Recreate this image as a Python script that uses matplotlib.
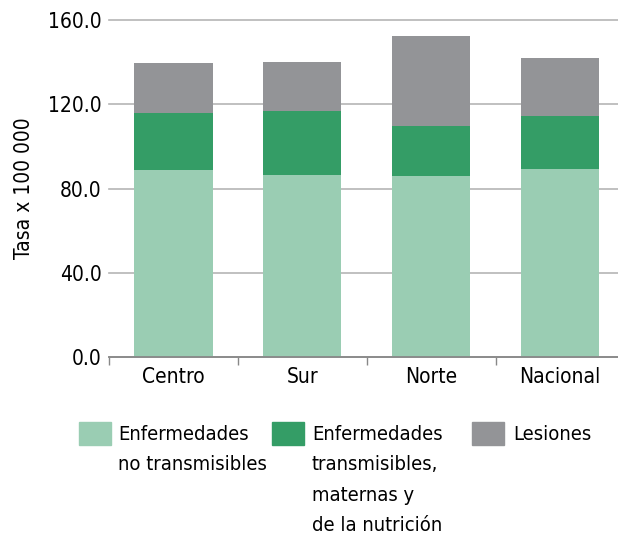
import numpy as np
import matplotlib
matplotlib.use("Agg")
import matplotlib.pyplot as plt
from matplotlib.patches import Rectangle

plt.rcParams['font.family'] = ['DejaVu Sans']
plt.rcParams['font.stretch'] = 'condensed'

# data (Tasa x 100 000)
regiones = ['Centro', 'Sur', 'Norte', 'Nacional']
no_transmisibles = [88.9, 86.5, 86.0, 89.3]
transmisibles = [26.8, 30.3, 23.7, 25.2]
lesiones = [23.9, 23.3, 42.7, 27.5]

etiquetas = ['Enfermedades\nno transmisibles',
             'Enfermedades\ntransmisibles,\nmaternas y\nde la nutrición',
             'Lesiones']
colores = ['#9acdb3', '#349d66', '#939497']
yticks = [0, 40, 80, 120, 160]

fig = plt.figure(figsize=(6.18, 5.39), dpi=100)
ax = fig.add_axes([0.176, 0.337, 0.824, 0.626])

x = np.arange(len(regiones))
w = 0.61
base = np.zeros(len(regiones))
for serie, c in zip([no_transmisibles, transmisibles, lesiones], colores):
    ax.bar(x, serie, w, bottom=base, color=c, zorder=3)
    base = base + np.array(serie)

ax.set_ylim(0, 160)
ax.set_xlim(-0.5, 3.45)
ax.set_yticks(yticks)
ax.set_yticklabels(['%.1f' % v for v in yticks], fontsize=15)
ax.tick_params(axis='y', length=0, pad=5)
ax.grid(axis='y', color='#b5b5b5', linewidth=1.2, zorder=0)
for gl in ax.get_ygridlines():
    gl.set_clip_on(False)

ax.set_xticks(x)
ax.set_xticklabels(regiones, fontsize=15)
ax.set_xticks(np.arange(-0.5, 3.5, 1), minor=True)
ax.tick_params(axis='x', which='major', length=0, pad=7)
ax.tick_params(axis='x', which='minor', length=6, color='#888888', width=1)

for s in ['top', 'right', 'left']:
    ax.spines[s].set_visible(False)
ax.spines['bottom'].set_color('#888888')
ax.spines['bottom'].set_linewidth(1.3)
ax.spines['bottom'].set_zorder(4)

ax.set_ylabel('Tasa x 100 000', fontsize=15, labelpad=10)

# legend drawn by hand, below the plot
W, H = 618.0, 539.0
caja_x = [79, 272, 472]
texto_x = [118.5, 312, 513]
for etq, c, bx, tx in zip(etiquetas, colores, caja_x, texto_x):
    fig.patches.append(Rectangle((bx / W, 1 - 445 / H), 32 / W, 23 / H,
                                 transform=fig.transFigure, color=c))
    fig.text(tx / W, 1 - 425 / H, etq, fontsize=14.5, va='top', ha='left',
             linespacing=1.76)

fig.savefig('out.png', dpi=100)
